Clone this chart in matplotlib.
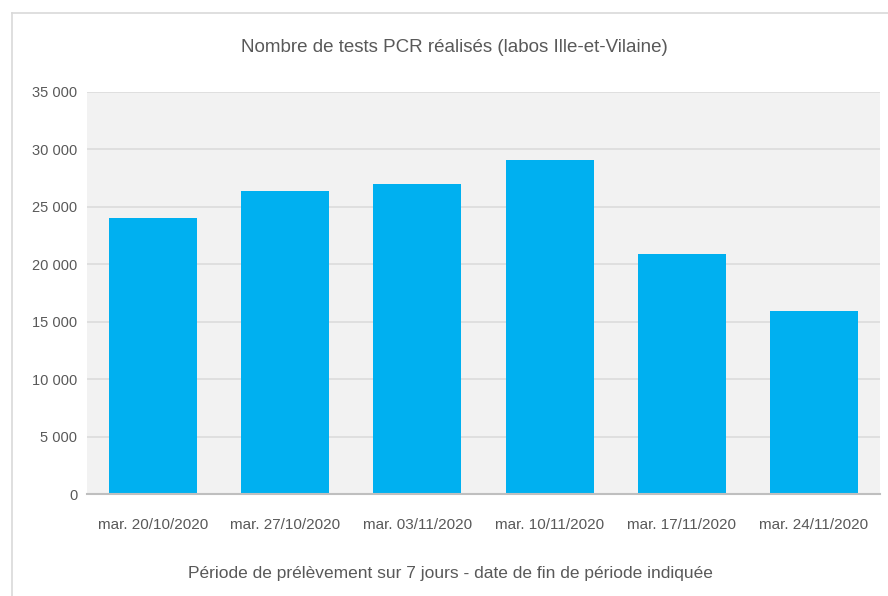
import matplotlib.pyplot as plt
from matplotlib.lines import Line2D
import numpy as np

# Data
categories = ['mar. 20/10/2020', 'mar. 27/10/2020', 'mar. 03/11/2020',
              'mar. 10/11/2020', 'mar. 17/11/2020', 'mar. 24/11/2020']
tests_pcr = [24000, 26350, 26950, 29050, 20850, 15970]
y_ticks = [0, 5000, 10000, 15000, 20000, 25000, 30000, 35000]
y_tick_labels = ['0', '5 000', '10 000', '15 000', '20 000', '25 000', '30 000', '35 000']

plt.rcParams['font.family'] = ['Liberation Sans', 'DejaVu Sans']
text_color = '#595959'

fig = plt.figure(figsize=(8.88, 5.96), dpi=100)
ax = fig.add_axes([87 / 888, 0.171, (880 - 87) / 888, 0.675])

# outer chart border (top and left edges only visible)
fig.lines.append(Line2D([12 / 888, 1.0], [1 - 13 / 596, 1 - 13 / 596],
                        transform=fig.transFigure, color='#d9d9d9', linewidth=1.2))
fig.lines.append(Line2D([12 / 888, 12 / 888], [0, 1 - 13 / 596],
                        transform=fig.transFigure, color='#d9d9d9', linewidth=1.2))

x = np.arange(len(categories))
ax.set_facecolor('#f2f2f2')
ax.bar(x, tests_pcr, width=0.665, color='#00b0f0', zorder=3)

ax.set_xlim(-0.5, len(categories) - 0.5)
ax.set_ylim(0, 35000)
ax.set_yticks(y_ticks)
ax.set_yticklabels(y_tick_labels)
ax.set_xticks(x)
ax.set_xticklabels(categories)
ax.tick_params(axis='both', length=0, colors=text_color, labelsize=10.5)
ax.tick_params(axis='x', pad=17, labelsize=11)
ax.tick_params(axis='y', pad=7)

ax.grid(axis='y', color='#dcdcdc', linewidth=1.2, zorder=0)
for s in ['top', 'right', 'left']:
    ax.spines[s].set_visible(False)
ax.spines['bottom'].set_color('#bfbfbf')
ax.spines['bottom'].set_linewidth(1.5)
ax.spines['bottom'].set_zorder(4)

ax.set_xlabel('Période de prélèvement sur 7 jours - date de fin de période indiquée',
              color=text_color, fontsize=12.5)
ax.xaxis.set_label_coords((450 - 87) / 793, -(573 - 494) / 402)
ax.xaxis.label.set_va('center')
fig.text(454 / 888, 1 - 47 / 596, 'Nombre de tests PCR réalisés (labos Ille-et-Vilaine)',
         ha='center', va='center', color=text_color, fontsize=13.5)

fig.savefig('out.png', dpi=100)
